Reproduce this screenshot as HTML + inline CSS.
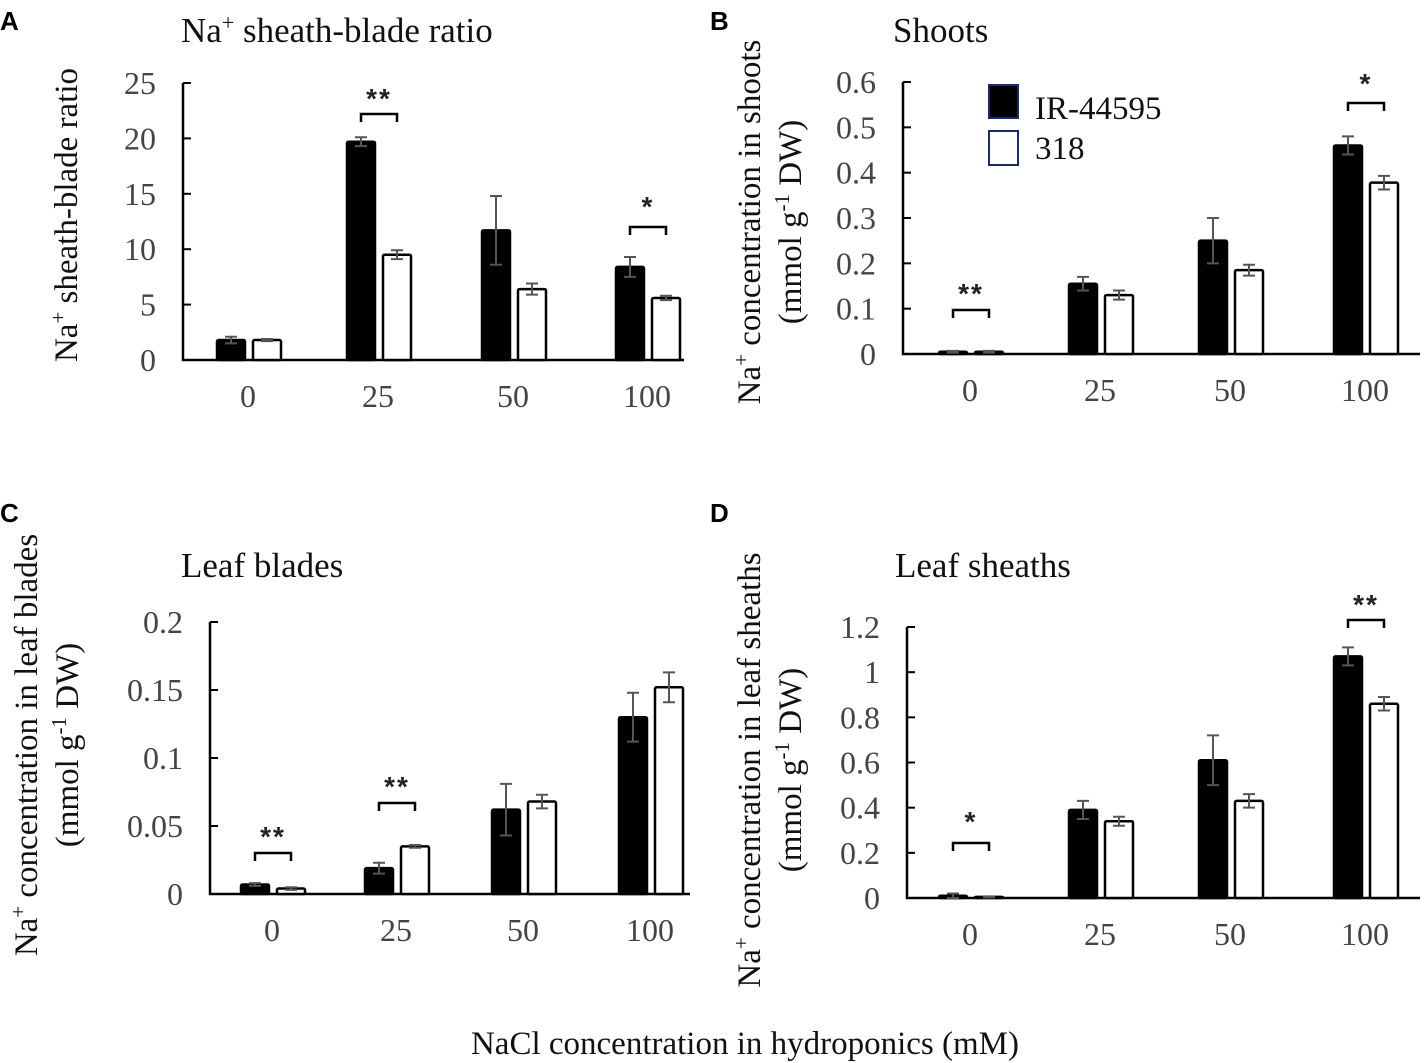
<!DOCTYPE html>
<html><head><meta charset="utf-8"><style>
html,body{margin:0;padding:0;background:#fff;}
svg{display:block;font-family:"Liberation Serif",serif;}
.tick{font-size:32px;fill:#444;}
.title{font-size:35px;fill:#111;}
.axt{font-size:33px;fill:#111;}
.lbl{font-family:"Liberation Sans",sans-serif;font-weight:bold;font-size:26px;fill:#000;}
</style></head><body>
<svg id="fig" width="1428" height="1063" viewBox="0 0 1428 1063">
<text class="lbl" x="0" y="30">A</text>
<text class="lbl" x="710" y="30">B</text>
<text class="lbl" x="0" y="522">C</text>
<text class="lbl" x="710" y="522">D</text>
<text class="title" x="181" y="42">Na<tspan baseline-shift="super" font-size="22">+</tspan> sheath-blade ratio</text>
<text class="title" x="893" y="42">Shoots</text>
<text class="title" x="181" y="577">Leaf blades</text>
<text class="title" x="895" y="577">Leaf sheaths</text>
<text class="axt" transform="translate(77,215) rotate(-90)" text-anchor="middle">Na<tspan baseline-shift="super" font-size="21">+</tspan> sheath-blade ratio</text>
<g>
<text class="axt" transform="translate(760,222) rotate(-90)" text-anchor="middle">Na<tspan baseline-shift="super" font-size="21">+</tspan> concentration in shoots</text>
<text class="axt" transform="translate(801,222) rotate(-90)" text-anchor="middle">(mmol g<tspan baseline-shift="super" font-size="21">-1</tspan> DW)</text></g>
<g>
<text class="axt" transform="translate(37,745) rotate(-90)" text-anchor="middle">Na<tspan baseline-shift="super" font-size="21">+</tspan> concentration in leaf blades</text>
<text class="axt" transform="translate(78,745) rotate(-90)" text-anchor="middle">(mmol g<tspan baseline-shift="super" font-size="21">-1</tspan> DW)</text></g>
<g>
<text class="axt" transform="translate(760,770) rotate(-90)" text-anchor="middle">Na<tspan baseline-shift="super" font-size="21">+</tspan> concentration in leaf sheaths</text>
<text class="axt" transform="translate(801,770) rotate(-90)" text-anchor="middle">(mmol g<tspan baseline-shift="super" font-size="21">-1</tspan> DW)</text></g>
<text class="axt" x="745" y="1054" text-anchor="middle" font-size="34">NaCl concentration in hydroponics (mM)</text>
<g>
<rect x="989" y="85" width="29" height="33" fill="#000" stroke="#1a2a6a" stroke-width="2"/>
<text class="axt" x="1035" y="119" font-size="35">IR-44595</text>
<rect x="989" y="131" width="29" height="34" fill="#fff" stroke="#1a2a6a" stroke-width="2"/>
<text class="axt" x="1035" y="159" font-size="35">318</text>
</g>
</svg>
<script>
const categories = ["0","25","50","100"];
const aBlack = [1.8, 19.7, 11.7, 8.4];
const aBlackErr = [0.3, 0.4, 3.1, 0.9];
const aWhite = [1.8, 9.5, 6.4, 5.6];
const aWhiteErr = [0.1, 0.4, 0.5, 0.2];
const aTicks = ["0","5","10","15","20","25"];
const bBlack = [0.005, 0.155, 0.25, 0.46];
const bBlackErr = [0.002, 0.015, 0.05, 0.02];
const bWhite = [0.005, 0.13, 0.185, 0.378];
const bWhiteErr = [0.002, 0.01, 0.012, 0.015];
const bTicks = ["0","0.1","0.2","0.3","0.4","0.5","0.6"];
const cBlack = [0.007, 0.019, 0.062, 0.13];
const cBlackErr = [0.001, 0.004, 0.019, 0.018];
const cWhite = [0.004, 0.035, 0.068, 0.152];
const cWhiteErr = [0.001, 0.001, 0.005, 0.011];
const cTicks = ["0","0.05","0.1","0.15","0.2"];
const dBlack = [0.01, 0.39, 0.61, 1.07];
const dBlackErr = [0.01, 0.04, 0.11, 0.04];
const dWhite = [0.005, 0.34, 0.43, 0.86];
const dWhiteErr = [0.002, 0.02, 0.03, 0.03];
const dTicks = ["0","0.2","0.4","0.6","0.8","1","1.2"];
const aSig = [["**",1,114,95],["*",3,227,203]];
const bSig = [["**",0,310,290],["*",3,103,80]];
const cSig = [["**",0,853,833],["**",1,803,783]];
const dSig = [["*",0,843,818],["**",3,620,601]];

const NS="http://www.w3.org/2000/svg";
const svg=document.getElementById('fig');
function mk(tag,attrs,parent){const e=document.createElementNS(NS,tag);for(const k in attrs)e.setAttribute(k,attrs[k]);(parent||svg).appendChild(e);return e;}

function panel(id,ax,y0,yTop,xEnd,cx,ticks,black,bErr,white,wErr,sig){
  const g=mk('g',{});
  
  
  const ymax=parseFloat(ticks[ticks.length-1]);
  const y=v=>y0-(v/ymax)*(y0-yTop);
  const ax1=mk('path',{d:`M${ax} ${yTop} V${y0} H${xEnd}`,fill:'none',stroke:'#000','stroke-width':2.5},g);
  
  
  ticks.forEach(t=>{
    const v=parseFloat(t),yy=y(v);
    mk('line',{x1:ax,x2:ax+8,y1:yy,y2:yy,stroke:'#000','stroke-width':2},g);
    const tx=mk('text',{x:ax-27,y:yy+11,'text-anchor':'end',class:'tick'},g);
    tx.textContent=t;
    
    
  });
  categories.forEach((c,i)=>{
    const tx=mk('text',{x:cx[i],y:y0+47,'text-anchor':'middle',class:'tick'},g);
    tx.textContent=c;
    
    
    [[black,bErr,-31,'#000'],[white,wErr,5,'#fff']].forEach(([arr,err,off,fill])=>{
      const x0=cx[i]+off,w=28,top=y(arr[i]);
      const r=mk('rect',{x:x0,y:top,width:w,height:Math.max(y0-top,1),fill:fill,stroke:'#000','stroke-width':2.5,rx:1.5},g);
      
      
      const e1=y(arr[i]+err[i]),e2=y(arr[i]-err[i]),mx=x0+w/2;
      const eb=mk('path',{d:`M${mx} ${e1} V${e2} M${mx-6} ${e1} H${mx+6} M${mx-6} ${e2} H${mx+6}`,stroke:'#555','stroke-width':2,fill:'none'},g);
      
      
    });
  });
  sig.forEach(([s,i,by,sy])=>{
    const l=cx[i]-17,r=cx[i]+19;
    const br=mk('path',{d:`M${l} ${by+8} V${by} H${r} V${by+8}`,fill:'none',stroke:'#000','stroke-width':2.5},g);
    
    
    const st=mk('text',{x:cx[i]+1,y:sy+13,'text-anchor':'middle','font-size':28,'font-family':'"Liberation Sans",sans-serif','font-weight':'bold',fill:'#222','letter-spacing':'2'},g);
    st.textContent=s;
    
    
  });
}
panel('a',183,360,83,684,[248,378,513,647],aTicks,aBlack,aBlackErr,aWhite,aWhiteErr,aSig);
panel('b',903,354,82,1420,[970,1100,1230,1365],bTicks,bBlack,bBlackErr,bWhite,bWhiteErr,bSig);
panel('c',210,894,622,690,[272,396,523,650],cTicks,cBlack,cBlackErr,cWhite,cWhiteErr,cSig);
panel('d',907,898,627,1420,[970,1100,1230,1365],dTicks,dBlack,dBlackErr,dWhite,dWhiteErr,dSig);
</script>
</body></html>
